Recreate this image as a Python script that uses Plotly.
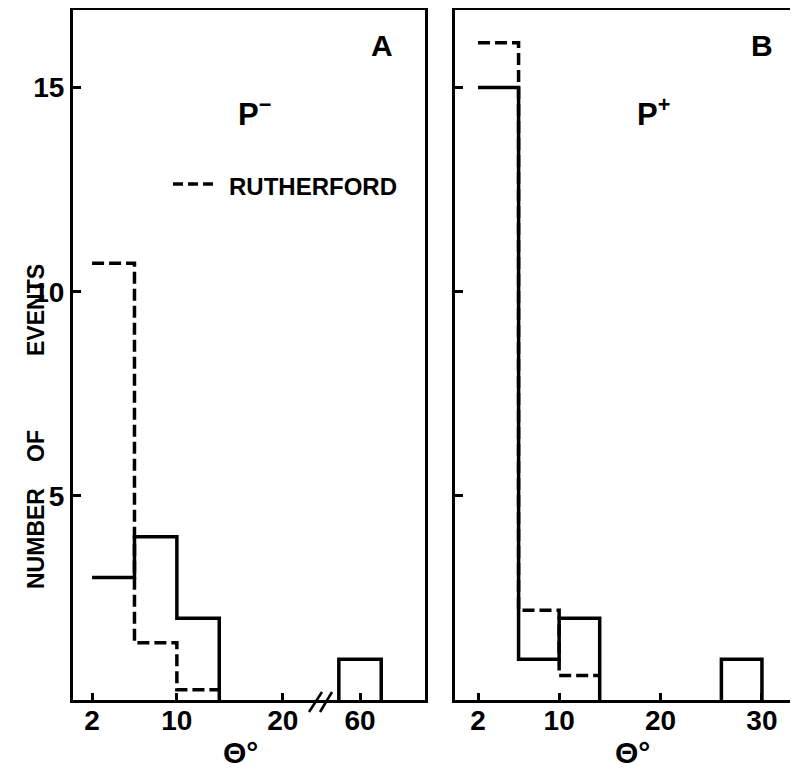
import plotly.graph_objects as go

# ---------------- data ----------------
# Panel A : P-   (theta bins in degrees, number of events)
edges_A = [2, 6, 10, 14]
solid_A = [3, 4, 2]
ruth_A = [10.7, 1.4, 0.25]
far_edges_A = [58, 62]
far_A = [1]

# Panel B : P+
edges_B = [2, 6, 10, 14]
solid_B = [15, 1, 2]
ruth_B = [16.1, 2.2, 0.6]
far_edges_B = [26, 30]
far_B = [1]

xticks_A = [2, 10, 20, 60]
xticks_B = [2, 10, 20, 30]
yticks = [5, 10, 15]

# broken theta axis in panel A: values beyond the break are shifted left by this amount
BREAK_OFFSET_A = 32.72
BREAK_AT_A = 23.5

W, H = 798, 774
OFF = 8  # page body margin of the browser
FONT = "Liberation Sans"
LW = 3.5
DASH = "12px,5px"


def px(x):
    return (x - OFF) / W


def py(y):
    return 1 - (y - OFF) / H


def shiftA(v):
    return v - BREAK_OFFSET_A if v > BREAK_AT_A else v


def step_closed(edges, vals):
    return list(edges), list(vals) + [0]


def step_open(edges, vals):
    return list(edges), list(vals) + [vals[-1]]


fig = go.Figure()

# Panel A
xs, ys = step_closed(edges_A, solid_A)
fig.add_trace(go.Scatter(x=xs, y=ys, mode="lines", line=dict(color="black", width=LW, shape="hv"),
                         xaxis="x", yaxis="y", showlegend=False))
xs, ys = step_open(edges_A, ruth_A)
fig.add_trace(go.Scatter(x=xs, y=ys, mode="lines", line=dict(color="black", width=LW, shape="hv", dash=DASH),
                         xaxis="x", yaxis="y", showlegend=False))
fx = [shiftA(far_edges_A[0]), shiftA(far_edges_A[0]), shiftA(far_edges_A[1])]
fig.add_trace(go.Scatter(x=fx, y=[0, far_A[0], 0], mode="lines",
                         line=dict(color="black", width=LW, shape="hv"),
                         xaxis="x", yaxis="y", showlegend=False))

# Panel B
xs, ys = step_closed(edges_B, solid_B)
fig.add_trace(go.Scatter(x=xs, y=ys, mode="lines", line=dict(color="black", width=LW, shape="hv"),
                         xaxis="x2", yaxis="y2", showlegend=False))
xs, ys = step_open(edges_B, ruth_B)
fig.add_trace(go.Scatter(x=xs, y=ys, mode="lines", line=dict(color="black", width=LW, shape="hv", dash=DASH),
                         xaxis="x2", yaxis="y2", showlegend=False))
fig.add_trace(go.Scatter(x=[far_edges_B[0], far_edges_B[0], far_edges_B[1]], y=[0, far_B[0], 0], mode="lines",
                         line=dict(color="black", width=LW, shape="hv"),
                         xaxis="x2", yaxis="y2", showlegend=False))

ydom = [py(700), py(10)]
yrange = [0, 16.9]
tickfont = dict(family=FONT, size=28, color="black", weight="bold")

common_x = dict(showline=True, linecolor="black", linewidth=3, mirror=True, ticks="inside",
                ticklen=7, tickwidth=2.5, tickcolor="black", showgrid=False, zeroline=False,
                tickfont=tickfont, automargin=False, ticklabelstandoff=-7)
common_y = dict(showline=True, linecolor="black", linewidth=3, ticks="inside", ticklen=8,
                tickwidth=2.5, tickcolor="black", showgrid=False, zeroline=False, range=yrange,
                tickvals=yticks, automargin=False, domain=ydom)

fig.update_layout(
    width=W, height=H,
    margin=dict(l=0, r=0, t=0, b=0),
    paper_bgcolor="white", plot_bgcolor="white",
    xaxis=dict(common_x, domain=[px(73), px(425)], range=[0.2, 33.41], anchor="y",
               tickvals=[shiftA(v) for v in xticks_A], ticktext=[str(v) for v in xticks_A]),
    yaxis=dict(common_y, anchor="x", mirror=True, showticklabels=True, tickfont=tickfont),
    yaxis3=dict(common_y, anchor="x", overlaying="y", side="right", showline=False, showticklabels=False),
    xaxis2=dict(common_x, domain=[px(455), 1.0], range=[-0.27, -0.27 + (W + OFF - 455) / 10.14], anchor="y2",
                tickvals=xticks_B, ticktext=[str(v) for v in xticks_B]),
    yaxis2=dict(common_y, anchor="x2", mirror=False, showticklabels=False),
)

# inward ticks near the right edge of panel B (its right frame lies beyond the picture)
for v in yticks:
    fig.add_shape(type="line", xref="paper", yref="y2", x0=px(792), x1=px(798), y0=v, y1=v,
                  line=dict(color="black", width=2.5))


# axis break marks "//" on panel A
def dx(p):
    return (p - 73) / 352


def dy(p):
    return (700 - p) / 690


for x0, x1 in [(309, 322), (320, 332)]:
    fig.add_shape(type="line", xref="x domain", yref="y domain",
                  x0=dx(x0), y0=dy(712), x1=dx(x1), y1=dy(692),
                  line=dict(color="black", width=2.5))

# legend sample line
fig.add_shape(type="line", xref="paper", yref="paper", x0=px(173), y0=py(184), x1=px(213), y1=py(184),
              line=dict(color="black", width=LW, dash="10px,5px"))


def ann(text, x, y, size, **kw):
    fig.add_annotation(text=text, x=px(x), y=py(y), xref="paper", yref="paper", showarrow=False,
                       xanchor=kw.pop("xanchor", "center"), yanchor="middle",
                       font=dict(family=FONT, size=size, color="black", weight="bold"), **kw)


ann("RUTHERFORD", 227, 186, 24, xanchor="left")
ann("A", 382, 45, 30)
ann("B", 762, 45, 30)
ann("P<sup>−</sup>", 254, 112, 31)
ann("P<sup>+</sup>", 653, 112, 31)
ann("Θ°", 240, 752, 30)
ann("Θ°", 632, 752, 30)
ann("NUMBER", 36, 539, 23, textangle=-90)
ann("OF", 36, 446, 23, textangle=-90)
ann("EVENTS", 36, 310, 23, textangle=-90)

fig.write_html("out.html")
